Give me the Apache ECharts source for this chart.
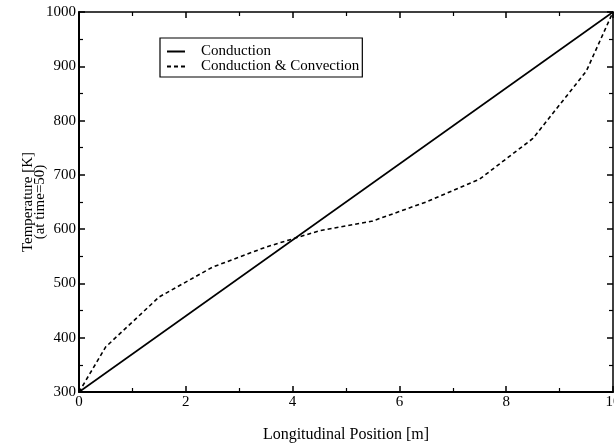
<!DOCTYPE html>
<html>
<head>
<meta charset="utf-8">
<script src="https://cdn.jsdelivr.net/npm/echarts@6/dist/echarts.min.js"></script>
<style>html,body{margin:0;padding:0;background:#fff;}#c{width:614px;height:445px;}</style>
</head>
<body>
<div id="c"></div>
<script>
const conductionX = [0, 10];
const conductionY = [300, 1000];
const convectionX = [0, 0.5, 1.5, 2.5, 3.5, 4.5, 5.5, 6.5, 7.5, 8.5, 9.5, 10];
const convectionY = [300, 383, 475, 530, 567, 597, 615, 650, 692, 767, 891, 1000];
const seriesNames = ['Conduction', 'Conduction & Convection'];
const xTicks = [0, 2, 4, 6, 8, 10];
const yTicks = [300, 400, 500, 600, 700, 800, 900, 1000];

const font = 'Liberation Serif';
const chart = echarts.init(document.getElementById('c'), null, {renderer: 'canvas'});
const axLine = w => ({show: true, onZero: false, lineStyle: {color: '#000', width: w}});
chart.setOption({
  animation: false,
  backgroundColor: '#fff',
  grid: {left: 79, right: 1, top: 12, bottom: 53, containLabel: false, outerBoundsMode: 'none'},
  legend: {
    left: 160, top: 38, orient: 'vertical',
    padding: [6, 3, 3, 6],
    borderColor: '#000', borderWidth: 1.2,
    itemWidth: 18, itemHeight: 10, itemGap: 0,
    itemStyle: {color: 'transparent', borderWidth: 0},
    textStyle: {fontFamily: font, fontSize: 15, lineHeight: 14, color: '#000', padding: [0, 0, 0, 11]},
    data: seriesNames
  },
  xAxis: [{
    type: 'value', min: xTicks[0], max: xTicks[xTicks.length - 1], interval: 2,
    position: 'bottom',
    name: 'Longitudinal Position [m]', nameLocation: 'middle', nameGap: 35, nameMoveOverlap: false,
    nameTextStyle: {fontFamily: font, fontSize: 16, color: '#000'},
    axisLine: axLine(2),
    axisTick: {inside: true, length: 6, lineStyle: {color: '#000', width: 1.5}},
    minorTick: {show: true, splitNumber: 2, length: 4, lineStyle: {color: '#000', width: 1.2}},
    axisLabel: {fontFamily: font, fontSize: 15, color: '#000', margin: 3, formatter: v => String(v)},
    splitLine: {show: false}
  }, {
    type: 'value', min: xTicks[0], max: xTicks[xTicks.length - 1], interval: 2,
    position: 'top',
    axisLine: axLine(1.5),
    axisTick: {inside: true, length: 6, lineStyle: {color: '#000', width: 1.5}},
    minorTick: {show: true, splitNumber: 2, length: 4, lineStyle: {color: '#000', width: 1.2}},
    axisLabel: {show: false},
    splitLine: {show: false}
  }],
  yAxis: [{
    type: 'value', min: yTicks[0], max: yTicks[yTicks.length - 1], interval: 100,
    position: 'left',
    name: 'Temperature [K]\n(at time=50)', nameLocation: 'middle', nameGap: 33, nameRotate: 90, nameMoveOverlap: false,
    nameTextStyle: {fontFamily: font, fontSize: 15, color: '#000', lineHeight: 12},
    axisLine: axLine(2),
    axisTick: {inside: true, length: 6, lineStyle: {color: '#000', width: 1.5}},
    minorTick: {show: true, splitNumber: 2, length: 4, lineStyle: {color: '#000', width: 1.2}},
    axisLabel: {fontFamily: font, fontSize: 15, color: '#000', margin: 3, formatter: v => String(v)},
    splitLine: {show: false}
  }, {
    type: 'value', min: yTicks[0], max: yTicks[yTicks.length - 1], interval: 100,
    position: 'right',
    axisLine: axLine(1.5),
    axisTick: {inside: true, length: 6, lineStyle: {color: '#000', width: 1.5}},
    minorTick: {show: true, splitNumber: 2, length: 4, lineStyle: {color: '#000', width: 1.2}},
    axisLabel: {show: false},
    splitLine: {show: false}
  }],
  series: [{
    name: seriesNames[0], type: 'line', symbol: 'none',
    data: conductionX.map((x, i) => [x, conductionY[i]]),
    lineStyle: {color: '#000', width: 1.6, type: 'solid'},
    itemStyle: {color: '#000'}
  }, {
    name: seriesNames[1], type: 'line', symbol: 'none',
    data: convectionX.map((x, i) => [x, convectionY[i]]),
    lineStyle: {color: '#000', width: 1.6, type: [4, 3]},
    itemStyle: {color: '#000'}
  }]
});
</script>
</body>
</html>
